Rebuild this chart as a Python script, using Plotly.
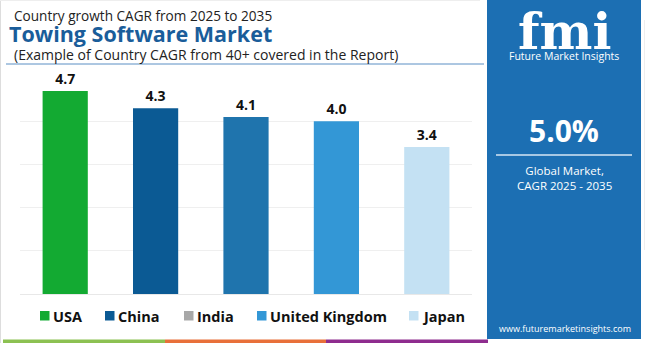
import plotly.graph_objects as go

# ---- data ----
countries = ["USA", "China", "India", "United Kingdom", "Japan"]
cagr = [4.7, 4.3, 4.1, 4.0, 3.4]
bar_colors = ["#13aa32", "#0b5a94", "#1f74ad", "#3397d6", "#c4e1f3"]
legend_colors = ["#13aa32", "#0b5a94", "#a8a8a8", "#3397d6", "#c4e1f3"]
y_ticks = [0, 1, 2, 3, 4, 5]

title_top = "Country growth CAGR from 2025 to 2035"
title_main = "Towing Software Market"
title_sub = "(Example of Country CAGR from 40+ covered in the Report)"
global_cagr = "5.0%"
global_label = "Global Market,<br>CAGR 2025 - 2035"
brand = "Future Market Insights"
website = "www.futuremarketinsights.com"

W, H = 650, 343
FONT = "Open Sans"


def px(x):
    return x / W


def py(y):
    return 1 - y / H


def note(x, y, text, size, color, bold=False, xanchor="left", family=FONT, yanchor="middle"):
    return dict(x=px(x), y=py(y), xref="paper", yref="paper", text=text, showarrow=False,
                xanchor=xanchor, yanchor=yanchor, borderpad=0,
                font=dict(family=family, size=size, color=color, weight="bold" if bold else "normal"))


fig = go.Figure()
fig.add_trace(go.Bar(
    x=countries, y=cagr,
    marker=dict(color=bar_colors, line=dict(width=0)),
    width=0.5,
    text=[f"{v:.1f}" for v in cagr],
    textposition="outside",
    textfont=dict(family=FONT, size=14, color="#111111", weight="bold"),
    cliponaxis=False,
    showlegend=False,
    hoverinfo="x+y",
))

shapes = []
annotations = []

# title texts
annotations += [
    note(13, 15, title_top, 13.6, "#222222"),
    note(8, 33, title_main, 21.5, "#1a5d9a", bold=True),
    note(13, 55, title_sub, 14, "#222222"),
]
# underline under title block
shapes.append(dict(type="line", xref="paper", yref="paper", x0=px(6), x1=px(484), y0=py(64), y1=py(64),
                   line=dict(color="#5b8fc4", width=1)))
# faint frame
shapes.append(dict(type="line", xref="paper", yref="paper", x0=px(0.5), x1=px(0.5), y0=0, y1=1,
                   line=dict(color="#dddddd", width=1)))
shapes.append(dict(type="line", xref="paper", yref="paper", x0=0, x1=px(480), y0=py(0.5), y1=py(0.5),
                   line=dict(color="#eeeeee", width=1)))
shapes.append(dict(type="line", xref="paper", yref="paper", x0=px(644.5), x1=px(644.5), y0=py(250), y1=py(20),
                   line=dict(color="#eeeeee", width=1)))

# right panel
panel_blue = "#1c6fb3"
shapes.append(dict(type="rect", xref="paper", yref="paper", x0=px(487), x1=px(641), y0=py(339), y1=py(0),
                   fillcolor=panel_blue, line=dict(width=0), layer="below"))
annotations += [
    note(564, 1, "fmi", 50, "white", bold=True, xanchor="center", family="DejaVu Serif", yanchor="top"),
    note(564, 56, brand, 10.5, "white", xanchor="center"),
    note(564, 130, global_cagr, 30, "white", bold=True, xanchor="center"),
    note(564, 177.5, global_label, 11.5, "white", xanchor="center"),
    note(565, 328, website, 9, "white", xanchor="center"),
]
shapes.append(dict(type="line", xref="paper", yref="paper", x0=px(496), x1=px(632), y0=py(155), y1=py(155),
                   line=dict(color="#d6e6f4", width=1.5)))

# manual legend
leg_sq_x = [40, 105, 184, 257, 409]
for name, col, sx in zip(countries, legend_colors, leg_sq_x):
    shapes.append(dict(type="rect", xref="paper", yref="paper", x0=px(sx), x1=px(sx + 9.5),
                       y0=py(320.5), y1=py(311), fillcolor=col, line=dict(width=0)))
    annotations.append(note(sx + 12, 316, name, 14.5, "#111111", bold=True))

# bottom colour strip
for x0, x1, col in [(3, 165, "#8cc152"), (165, 326, "#e8703a"), (326, 488, "#8e2c8e")]:
    shapes.append(dict(type="rect", xref="paper", yref="paper", x0=px(x0), x1=px(x1), y0=0, y1=py(339.5),
                       fillcolor=col, line=dict(width=0)))

fig.update_layout(
    width=W, height=H,
    margin=dict(l=0, r=0, t=0, b=0),
    paper_bgcolor="white", plot_bgcolor="white",
    bargap=0.5,
    xaxis=dict(domain=[px(20), px(472)], range=[-0.5, 4.5], showticklabels=False, showgrid=False,
               zeroline=False, showline=False, ticks="", fixedrange=True),
    yaxis=dict(domain=[49 / H, (H - 78) / H], range=[0, 5], tickvals=y_ticks, showticklabels=False,
               showgrid=True, gridcolor="#efefef", gridwidth=1, zeroline=True, zerolinecolor="#e8e8e8",
               zerolinewidth=1, showline=False, ticks="", fixedrange=True),
    shapes=shapes,
    annotations=annotations,
    showlegend=False,
    font=dict(family=FONT),
)

fig.write_html("out.html")
